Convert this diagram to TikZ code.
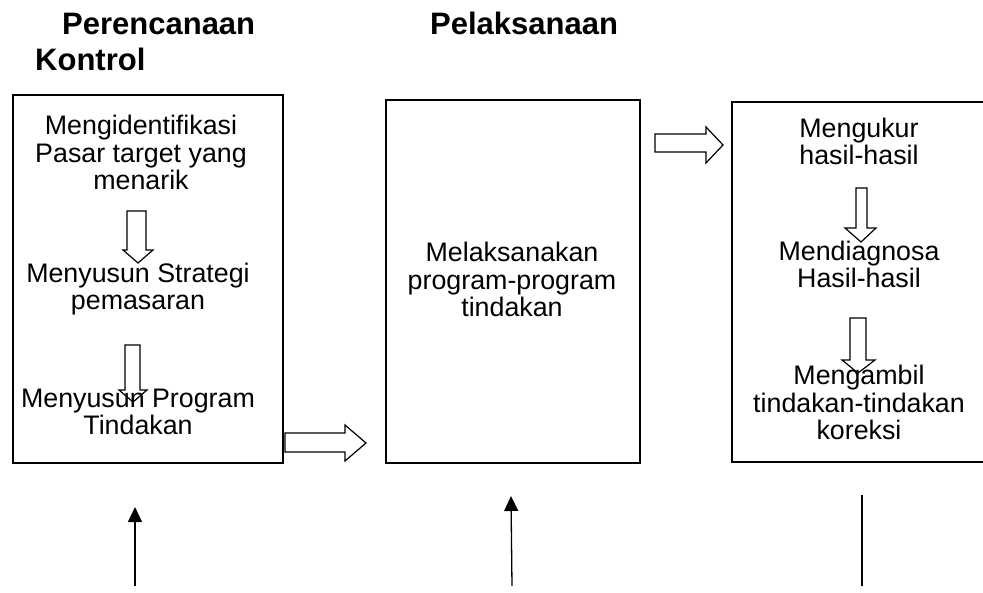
\documentclass[tikz,border=0pt]{standalone}
\usepackage{fontspec}
\setmainfont{Liberation Sans}
\usetikzlibrary{arrows.meta}
\tikzset{
  frame/.style={draw=black,line width=1.5pt},
  body/.style={font=\fontsize{26.8}{27.6}\selectfont,align=center,anchor=base,inner sep=0pt},
  heading/.style={font=\fontsize{31}{34}\selectfont\bfseries,anchor=base west,inner sep=0pt},
  blockarrow/.style={draw=black,line width=1.2pt,line join=miter},
  feed/.style={draw=black,line width=1.3pt,-{Triangle[length=15pt,width=14pt]}}
}
% down block arrow: cx, top, headstart, tip, shaft left, shaft right, head left, head right
\newcommand{\dnblock}[8]{%
  \draw[blockarrow] (#5,#2) -- (#6,#2) -- (#6,#3) -- (#8,#3) -- (#1,#4) -- (#7,#3) -- (#5,#3) -- cycle;}
% right block arrow: cy, left, headstart, tip, shaft top, shaft bottom, head top, head bottom
\newcommand{\rtblock}[8]{%
  \draw[blockarrow] (#2,#5) -- (#3,#5) -- (#3,#7) -- (#4,#1) -- (#3,#8) -- (#3,#6) -- (#2,#6) -- cycle;}
\begin{document}
\begin{tikzpicture}[x=1pt,y=-1pt]
\useasboundingbox (0,0) rectangle (983,593);
% headings
\node[heading] (hplan) at (62,35) {Perencanaan};
\node[heading] (hkon) at (35,71) {Kontrol};
\node[heading] (hpel) at (430,35) {Pelaksanaan};
% boxes
\draw[frame] (13,95) rectangle (283,463);
\draw[frame] (386,100) rectangle (640,463);
\draw[frame] (732,102) rectangle (985,462);
% box 1 texts (anchored at the baseline of the last line)
\node[body] (t1) at (141,190) {Mengidentifikasi\\Pasar target yang\\menarik};
\node[body] (t2) at (138,310) {Menyusun Strategi\\pemasaran};
\node[body] (t3) at (138,435) {Menyusun Program\\Tindakan};
% box 2 text
\node[body] (t4) at (512,317) {Melaksanakan\\program-program\\tindakan};
% box 3 texts
\node[body] (t5) at (859,165) {Mengukur\\hasil-hasil};
\node[body] (t6) at (859,288) {Mendiagnosa\\Hasil-hasil};
\node[body] (t7) at (859,440) {Mengambil\\tindakan-tindakan\\koreksi};
% block arrows
\dnblock{138}{211}{250}{263}{127}{146}{123}{153}
\dnblock{133}{345}{390}{402}{125}{140}{119}{147}
\dnblock{861}{188}{228}{242}{856}{867}{845}{876}
\dnblock{858}{318}{360}{373}{850}{866}{842}{875}
\rtblock{443}{285}{345}{366}{433}{452}{425}{461}
\rtblock{145}{655}{706}{723}{134}{152}{127}{163}
% feedback arrows
\coordinate (f1a) at (135,586); \coordinate (f1b) at (135,507);
\coordinate (f2a) at (512,586); \coordinate (f2b) at (511,496);
\coordinate (f3a) at (862,586); \coordinate (f3b) at (862,495);
\draw[feed] (f1a) -- (f1b);
\draw[feed] (f2a) -- (f2b);
\draw[draw=black,line width=1.3pt] (f3a) -- (f3b);
\end{tikzpicture}
\end{document}
